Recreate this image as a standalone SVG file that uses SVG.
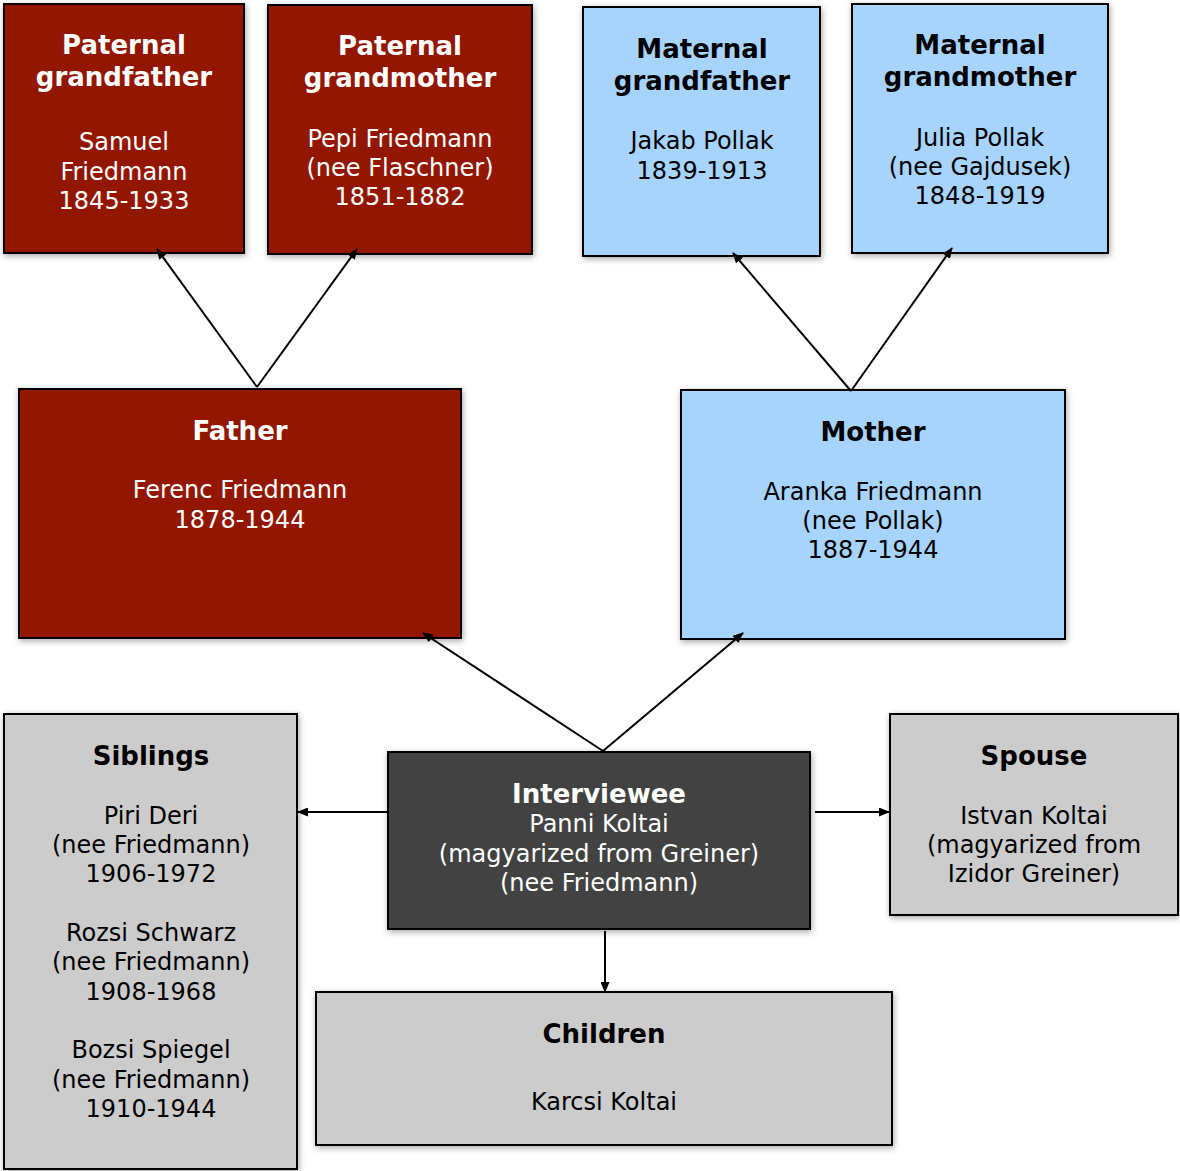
<svg xmlns="http://www.w3.org/2000/svg" width="1180" height="1171" viewBox="0 0 1180 1171">
<defs>
<filter id="sh" x="-10%" y="-10%" width="120%" height="120%">
<feDropShadow dx="1" dy="2" stdDeviation="3" flood-color="#000" flood-opacity="0.35"/>
</filter>
<marker id="ah" markerWidth="11" markerHeight="9" refX="10" refY="4.5" orient="auto" markerUnits="userSpaceOnUse">
<path d="M0,0 L11,4.5 L0,9 Z" fill="#000"/>
</marker>
</defs>
<style>
rect{stroke:#000;stroke-width:2;filter:url(#sh)}
.red{fill:#931500}
.blue{fill:#a7d4fd}
.gray{fill:#cccccc}
.dark{fill:#434343}
text{font-family:"DejaVu Sans",Verdana,sans-serif;text-anchor:middle;font-size:24px}
.t{font-weight:bold;font-size:26px}
.w{fill:#fff}
.k{fill:#000}
.c line{stroke:#000;stroke-width:2;marker-end:url(#ah)}
</style>
<g id="pgf">
<rect class="red" x="4" y="4" width="240" height="249"/>
<text class="w"><tspan class="t" x="124" y="54">Paternal</tspan><tspan class="t" x="124" y="86">grandfather</tspan><tspan x="124" y="150">Samuel</tspan><tspan x="124" y="180">Friedmann</tspan><tspan x="124" y="209">1845-1933</tspan></text>
</g>
<g id="pgm">
<rect class="red" x="268" y="5" width="264" height="249"/>
<text class="w"><tspan class="t" x="400" y="55">Paternal</tspan><tspan class="t" x="400" y="87">grandmother</tspan><tspan x="400" y="147">Pepi Friedmann</tspan><tspan x="400" y="176">(nee Flaschner)</tspan><tspan x="400" y="205">1851-1882</tspan></text>
</g>
<g id="mgf">
<rect class="blue" x="583" y="7" width="237" height="249"/>
<text class="k"><tspan class="t" x="702" y="58">Maternal</tspan><tspan class="t" x="702" y="90">grandfather</tspan><tspan x="702" y="149">Jakab Pollak</tspan><tspan x="702" y="179">1839-1913</tspan></text>
</g>
<g id="mgm">
<rect class="blue" x="852" y="4" width="256" height="249"/>
<text class="k"><tspan class="t" x="980" y="54">Maternal</tspan><tspan class="t" x="980" y="86">grandmother</tspan><tspan x="980" y="146">Julia Pollak</tspan><tspan x="980" y="175">(nee Gajdusek)</tspan><tspan x="980" y="204">1848-1919</tspan></text>
</g>
<g id="father">
<rect class="red" x="19" y="389" width="442" height="249"/>
<text class="w"><tspan class="t" x="240" y="440">Father</tspan><tspan x="240" y="498">Ferenc Friedmann</tspan><tspan x="240" y="528">1878-1944</tspan></text>
</g>
<g id="mother">
<rect class="blue" x="681" y="390" width="384" height="249"/>
<text class="k"><tspan class="t" x="873" y="441">Mother</tspan><tspan x="873" y="500">Aranka Friedmann</tspan><tspan x="873" y="529">(nee Pollak)</tspan><tspan x="873" y="558">1887-1944</tspan></text>
</g>
<g id="siblings">
<rect class="gray" x="4" y="714" width="293" height="455"/>
<text class="k"><tspan class="t" x="151" y="765">Siblings</tspan><tspan x="151" y="824">Piri Deri</tspan><tspan x="151" y="853">(nee Friedmann)</tspan><tspan x="151" y="882">1906-1972</tspan><tspan x="151" y="941">Rozsi Schwarz</tspan><tspan x="151" y="970">(nee Friedmann)</tspan><tspan x="151" y="1000">1908-1968</tspan><tspan x="151" y="1058">Bozsi Spiegel</tspan><tspan x="151" y="1088">(nee Friedmann)</tspan><tspan x="151" y="1117">1910-1944</tspan></text>
</g>
<g id="interviewee">
<rect class="dark" x="388" y="752" width="422" height="177"/>
<text class="w"><tspan class="t" x="599" y="803">Interviewee</tspan><tspan x="599" y="832">Panni Koltai</tspan><tspan x="599" y="862">(magyarized from Greiner)</tspan><tspan x="599" y="891">(nee Friedmann)</tspan></text>
</g>
<g id="spouse">
<rect class="gray" x="890" y="714" width="288" height="201"/>
<text class="k"><tspan class="t" x="1034" y="765">Spouse</tspan><tspan x="1034" y="824">Istvan Koltai</tspan><tspan x="1034" y="853">(magyarized from</tspan><tspan x="1034" y="882">Izidor Greiner)</tspan></text>
</g>
<g id="children">
<rect class="gray" x="316" y="992" width="576" height="153"/>
<text class="k"><tspan class="t" x="604" y="1043">Children</tspan><tspan x="604" y="1110">Karcsi Koltai</tspan></text>
</g>
<g class="c">
<line x1="257" y1="387" x2="157" y2="249"/>
<line x1="257" y1="387" x2="357" y2="249"/>
<line x1="851" y1="391" x2="733" y2="253"/>
<line x1="851" y1="391" x2="952" y2="248"/>
<line x1="603" y1="751" x2="423" y2="633"/>
<line x1="603" y1="751" x2="743" y2="633"/>
<line x1="388" y1="812" x2="298" y2="812"/>
<line x1="815" y1="812" x2="889" y2="812"/>
<line x1="605" y1="931" x2="605" y2="992"/>
</g>
</svg>
